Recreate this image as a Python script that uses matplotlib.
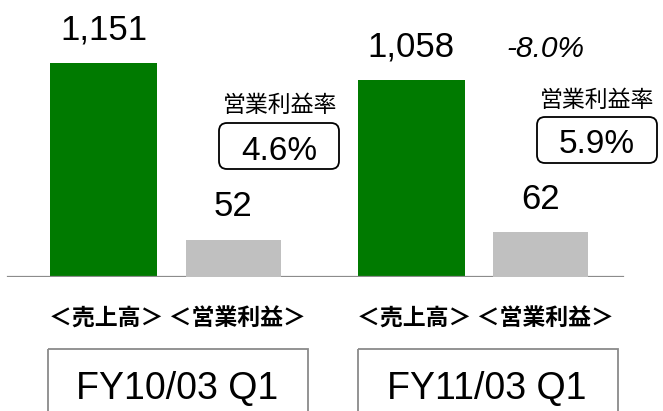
import numpy as np
import matplotlib
matplotlib.use('Agg')
import matplotlib.pyplot as plt
from matplotlib.patches import FancyBboxPatch, Rectangle
from matplotlib.transforms import Affine2D

# ---- data ----
periods = ['FY10/03 Q1', 'FY11/03 Q1']
sales = [1151, 1058]
profit = [52, 62]
margin_labels = ['4.6%', '5.9%']
sales_change = '-8.0%'
category_label = '＜売上高＞ ＜営業利益＞'
margin_title = '営業利益率'

# ---- layout ----
W, H = 663, 411
fig = plt.figure(figsize=(W / 100, H / 100), dpi=100)
px = Affine2D().scale(1 / W, -1 / H).translate(0, 1) + fig.transFigure

base_y = 277
ax = fig.add_axes([0, (H - base_y) / H, 1, base_y / H])
ax.set_axis_off()
ax2 = ax.twinx()
ax2.set_axis_off()

gap = 307.5
x = np.arange(len(periods))
ax.set_xlim(-103.5 / gap, (W - 103.5) / gap)
ax.set_ylim(0, 1490)
ax2.set_ylim(0, 385)
gray_off = 129.5 / gap

ax.bar(x, sales, width=107 / gap, color='#007A00', zorder=2)
ax2.bar(x + gray_off, profit, width=95 / gap, color='#C0C0C0', zorder=2)
ax.axhline(0, xmin=8 / W, xmax=623 / W, color='#8C8C8C', lw=1.6, zorder=3)

num_font = ['Liberation Sans', 'DejaVu Sans']
cjk_font = ['Noto Sans CJK JP', 'DejaVu Sans']

for xi, v in zip(x, sales):
    ax.annotate(f'{v:,}', (xi, v), xytext=(0, 17), textcoords='offset points',
                ha='center', va='baseline', fontsize=25, family=num_font)
for xi, v in zip(x, profit):
    ax2.annotate(f'{v:,}', (xi + gray_off, v), xytext=(0, 17), textcoords='offset points',
                 ha='center', va='baseline', fontsize=25, family=num_font)

ax.annotate(sales_change, (x[1], sales[1]), xytext=(97, 17), textcoords='offset points',
            ha='center', va='baseline', fontsize=21.5, style='italic', family=num_font)

# margin boxes
title_pos = [(280, 105), (597, 100)]
box_pos = [(219, 123), (537, 117)]
val_base = [(279, 160), (597, 153)]
for i in range(len(periods)):
    fig.text(*title_pos[i], margin_title, transform=px, ha='center', va='center',
             fontsize=16.5, family=cjk_font)
    bx, by = box_pos[i]
    fig.patches.append(FancyBboxPatch((bx, by), 120, 46,
                                      boxstyle='round,pad=0,rounding_size=8',
                                      transform=px, fc='white', ec='black', lw=1.3))
    fig.text(*val_base[i], margin_labels[i], transform=px, ha='center', va='baseline',
             fontsize=24, family=num_font)

# category labels and period boxes
cat_pos = [(177.5, 319), (485.5, 319)]
pbox_x = [48, 358]
for i, p in enumerate(periods):
    fig.text(*cat_pos[i], category_label, transform=px, ha='center', va='center',
             fontsize=16.5, fontweight='bold', family=cjk_font)
    fig.patches.append(Rectangle((pbox_x[i], 349), 260, 90, transform=px,
                                 fc='none', ec='#8A8A8A', lw=1.3))
    fig.text(pbox_x[i] + 129, 399, p, transform=px, ha='center', va='baseline',
             fontsize=27, family=num_font)

fig.savefig('out.png', dpi=100)
